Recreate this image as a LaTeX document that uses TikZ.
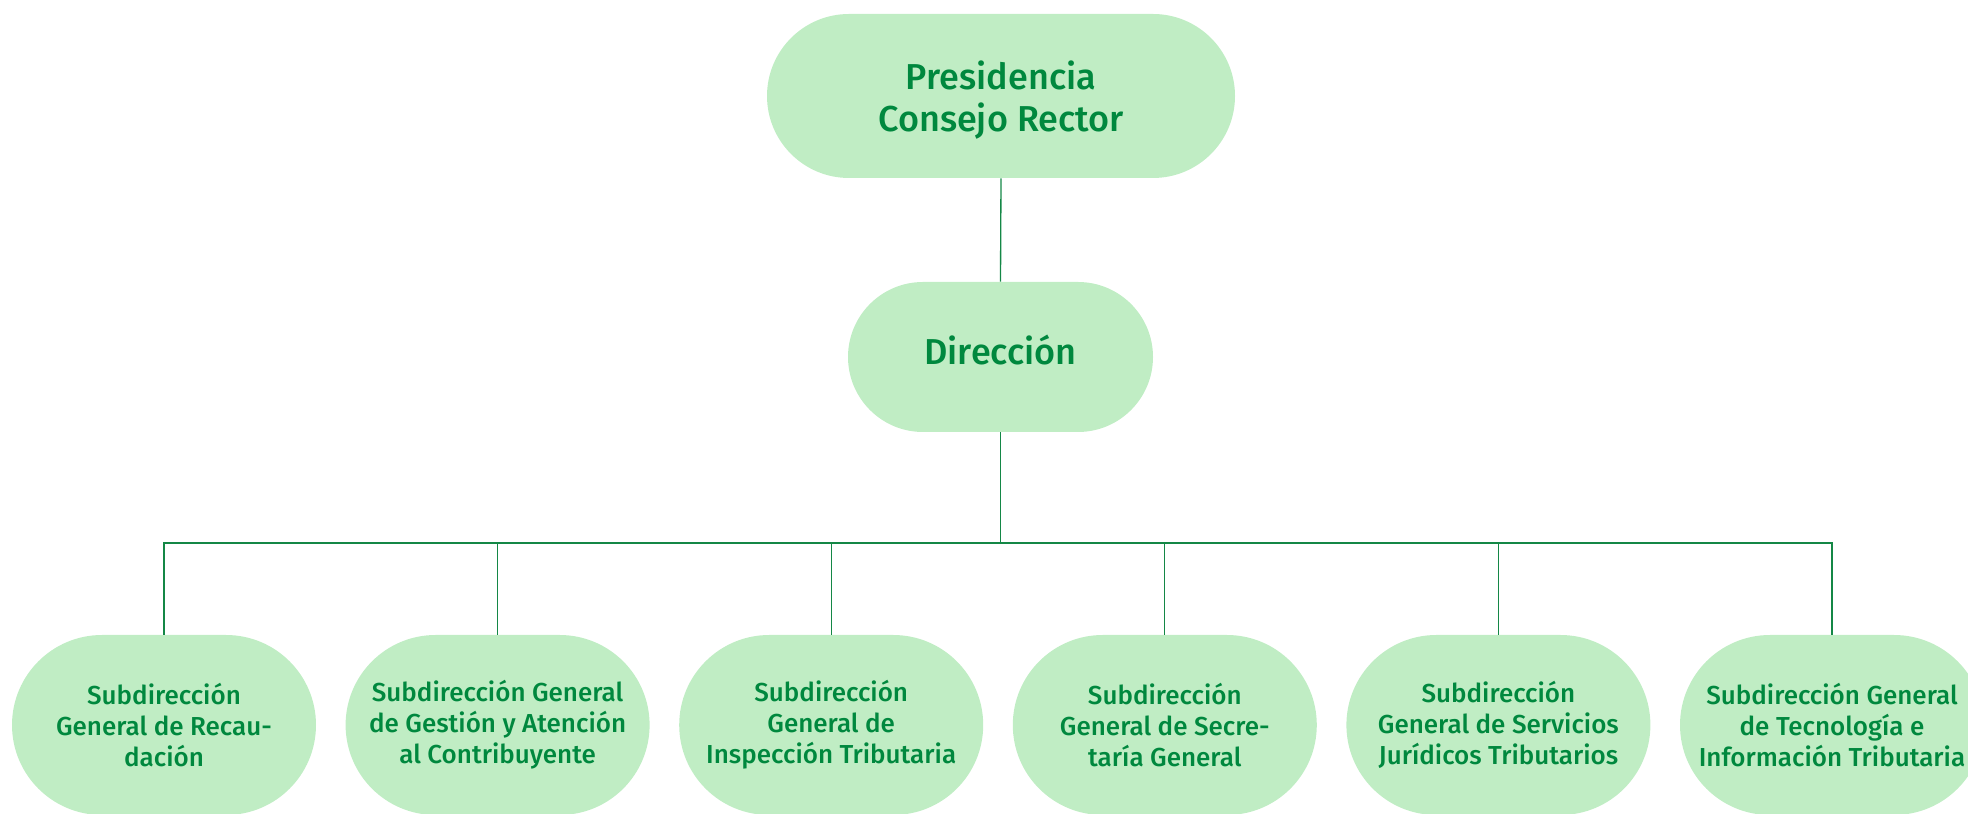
\documentclass[tikz,border=0pt]{standalone}
\usepackage{fontspec}
\setmainfont{Fira Sans}[BoldFont={Fira Sans Medium}]
\usetikzlibrary{shapes.misc}
\definecolor{boxgreen}{RGB}{192,237,196}
\definecolor{inkgreen}{RGB}{0,136,62}
\definecolor{wiregreen}{RGB}{20,135,70}

\begin{document}
\begin{tikzpicture}[
    unit/.style={rounded rectangle,fill=boxgreen,text=inkgreen,align=center,inner sep=0pt,font=\bfseries},
    bigunit/.style={unit,font=\fontsize{20.5}{24.2}\selectfont\bfseries},
    subunit/.style={unit,minimum width=6.08cm,minimum height=3.6cm,font=\fontsize{14.8}{17.6}\selectfont\bfseries},
    link/.style={draw=wiregreen,line width=0.75pt}]
  \clip (0,0) rectangle (39.36,16.28);
  % top of the chart
  \node[bigunit,minimum width=9.36cm,minimum height=3.28cm,text depth=0pt] (pres) at (20.02,14.36) {Presidencia\\Consejo Rector};
  \node[bigunit,minimum width=6.1cm,minimum height=3cm,text height=0.9em] (dir) at (20.01,9.14) {Dirección};
  \coordinate (bus) at (20.01,5.42);
  \draw[link] (pres.south) -- (dir.north);
  \draw[link] (dir.south) -- (bus);
  % subdirecciones
  \foreach \i/\txt in {1/{Subdirección\\General de Recau-\\dación},
                       2/{Subdirección General\\de Gestión y Atención\\al Contribuyente},
                       3/{Subdirección\\General de\\Inspección Tributaria},
                       4/{Subdirección\\General de Secre-\\taría General},
                       5/{Subdirección\\General de Servicios\\Jurídicos Tributarios},
                       6/{Subdirección General\\de Tecnología e\\Información Tributaria}}{
    \node[subunit] (sub\i) at ({3.28+(\i-1)*6.672},1.78) {\txt};
    \draw[link] (bus) -| (sub\i.north);}
\end{tikzpicture}
\end{document}
